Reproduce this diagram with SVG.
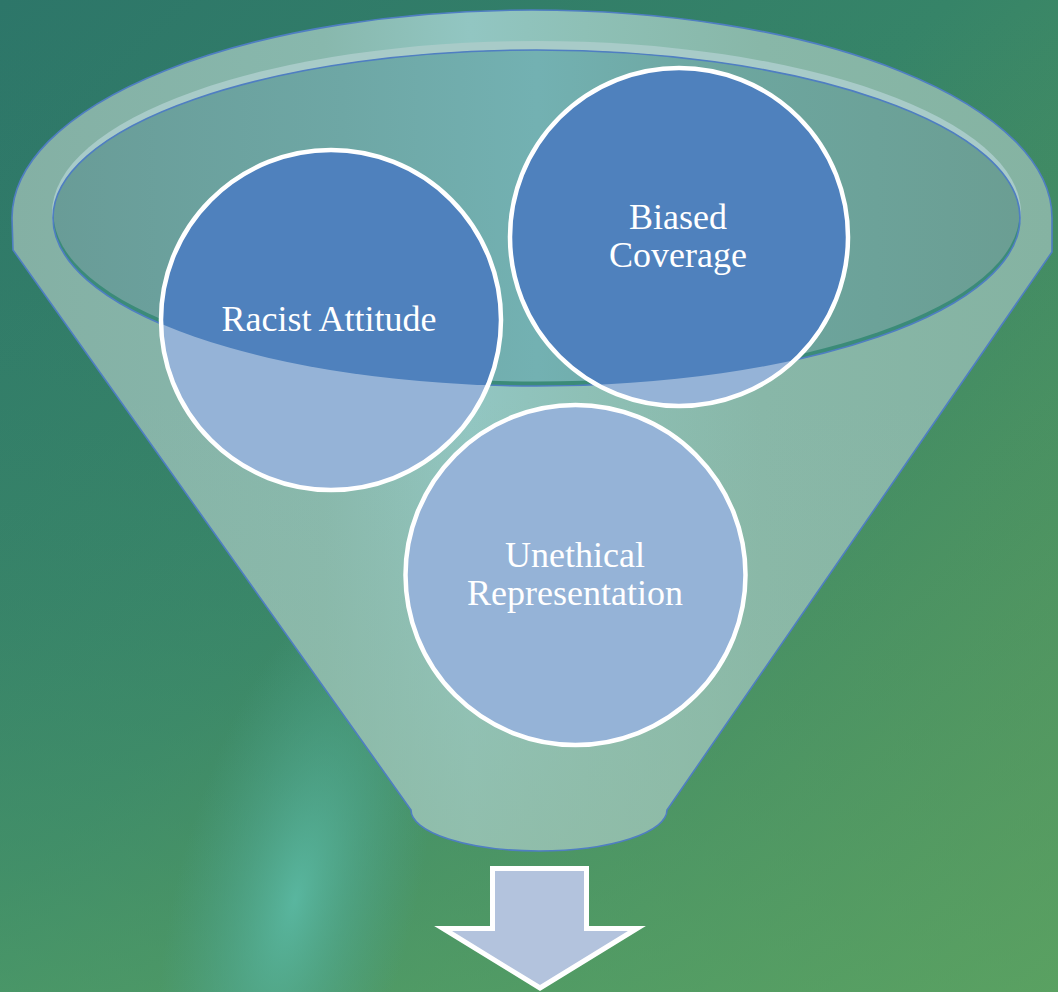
<svg xmlns="http://www.w3.org/2000/svg" width="1058" height="992" viewBox="0 0 1058 992">
<defs>
<linearGradient id="bg" x1="0" y1="0" x2="1" y2="1">
<stop offset="0" stop-color="#2d7669"/>
<stop offset="0.45" stop-color="#368468"/>
<stop offset="1" stop-color="#64a258"/>
</linearGradient>
<linearGradient id="bgv" x1="0" y1="0" x2="0" y2="1">
<stop offset="0" stop-color="#2e7a66" stop-opacity="0"/>
<stop offset="0.6" stop-color="#45906a" stop-opacity="0.25"/>
<stop offset="1" stop-color="#53a068" stop-opacity="0.6"/>
</linearGradient>
<radialGradient id="glow" cx="0.5" cy="0.5" r="0.5">
<stop offset="0" stop-color="#5cbca9" stop-opacity="0.85"/>
<stop offset="0.45" stop-color="#52ac9a" stop-opacity="0.5"/>
<stop offset="1" stop-color="#4aa090" stop-opacity="0"/>
</radialGradient>
<linearGradient id="body" x1="12" y1="0" x2="1053" y2="0" gradientUnits="userSpaceOnUse">
<stop offset="0" stop-color="#84b0a4"/>
<stop offset="0.3" stop-color="#88b8ad"/>
<stop offset="0.44" stop-color="#92c6c2"/>
<stop offset="0.55" stop-color="#8ec0b6"/>
<stop offset="0.72" stop-color="#88b7a8"/>
<stop offset="1" stop-color="#85b3a2"/>
</linearGradient>
<linearGradient id="bodyv" x1="0" y1="400" x2="0" y2="850" gradientUnits="userSpaceOnUse">
<stop offset="0" stop-color="#8fbba5" stop-opacity="0"/>
<stop offset="1" stop-color="#90bba3" stop-opacity="0.7"/>
</linearGradient>
<linearGradient id="inner" x1="53" y1="0" x2="1020" y2="0" gradientUnits="userSpaceOnUse">
<stop offset="0" stop-color="#699c97"/>
<stop offset="0.3" stop-color="#6ea7a5"/>
<stop offset="0.5" stop-color="#73b1b2"/>
<stop offset="0.7" stop-color="#6da69f"/>
<stop offset="1" stop-color="#6b9e93"/>
</linearGradient>
<clipPath id="opening">
<ellipse cx="536.5" cy="218" rx="483.5" ry="168"/>
</clipPath>
<style>
.ring{stroke:#ffffff;stroke-width:4.5}
.lite{fill:#95b3d7}
.dark{fill:#4f81bd}
.lbl{font-family:"Liberation Serif","Times New Roman",serif;font-size:36px;fill:#ffffff;text-anchor:middle}
.edge{fill:none;stroke:#4f7ec2;stroke-width:1.6}
</style>
</defs>

<g id="background">
<rect x="0" y="0" width="1058" height="992" fill="url(#bg)"/>
<rect x="0" y="0" width="1058" height="992" fill="url(#bgv)"/>
<ellipse cx="295" cy="900" rx="120" ry="320" transform="rotate(14 295 900)" fill="url(#glow)"/>
</g>

<g id="funnel">
<path d="M12,218 A520,208 0 0 1 1052,218 L1052,252 L667,810 A128,41 0 0 1 411,810 L13,250 Z" fill="url(#body)"/>
<path d="M12,218 A520,208 0 0 1 1052,218 L1052,252 L667,810 A128,41 0 0 1 411,810 L13,250 Z" fill="url(#bodyv)"/>
<ellipse cx="536.5" cy="213" rx="484.5" ry="172" fill="#a8cbc8"/>
<ellipse cx="536.5" cy="218" rx="483.5" ry="168" fill="#3b8b78"/>
<ellipse cx="536.5" cy="213.5" rx="483" ry="168" fill="url(#inner)" clip-path="url(#opening)"/>
<ellipse class="edge" cx="536.5" cy="218" rx="483.5" ry="168"/>
<path class="edge" d="M12,218 A520,208 0 0 1 1052,218 L1052,252 L667,810 A128,41 0 0 1 411,810 L13,250 Z"/>
</g>

<g id="node-racist">
<circle class="lite" cx="331" cy="320" r="170"/>
<circle class="dark" cx="331" cy="320" r="170" clip-path="url(#opening)"/>
<circle class="ring" cx="331" cy="320" r="170" fill="none"/>
<text class="lbl" x="329" y="331">Racist Attitude</text>
</g>

<g id="node-biased">
<circle class="lite" cx="679" cy="237" r="169"/>
<circle class="dark" cx="679" cy="237" r="169" clip-path="url(#opening)"/>
<circle class="ring" cx="679" cy="237" r="169" fill="none"/>
<text class="lbl" x="678" y="229">Biased</text>
<text class="lbl" x="678" y="267">Coverage</text>
</g>

<g id="node-unethical">
<circle class="lite ring" cx="575.5" cy="575" r="170"/>
<text class="lbl" x="575" y="567">Unethical</text>
<text class="lbl" x="575" y="605">Representation</text>
</g>

<g id="connectors">
<path d="M492.5,868.5 H586.5 V928.5 H637 L540,988 L443,928.5 H492.5 Z" fill="#b3c3dd" stroke="#ffffff" stroke-width="5" stroke-miterlimit="10"/>
</g>
</svg>
